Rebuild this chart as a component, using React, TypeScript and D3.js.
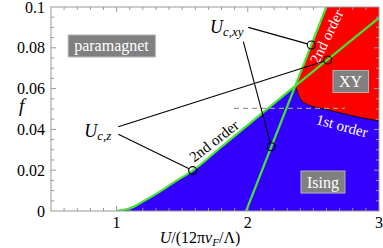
import React, { useEffect, useRef } from "react";
import * as d3 from "d3";

const W = 383;
const H = 248;

// U_c,z line (paramagnet / Ising)
const isingU = [1.0, 1.1, 1.2, 1.33, 1.46, 1.58, 1.8, 2.362, 3.0];
const isingF = [0, 0.0013, 0.0046, 0.0095, 0.015, 0.0198, 0.0315, 0.0613, 0.0947];
// U_c,xy line (paramagnet / XY)
const xyU = [1.987, 2.598];
const xyF = [0, 0.1];
// 1st order line Ising / XY
const firstU = [2.362, 2.373, 2.398, 2.461, 2.563, 2.716, 2.868, 3.0];
const firstF = [0.0613, 0.0593, 0.0552, 0.052, 0.0503, 0.0479, 0.0457, 0.0441];
// circles on the lines
const zMarkU = [1.58, 2.609];
const zMarkF = [0.0198, 0.074];
const xyMarkU = [2.179, 2.484];
const xyMarkF = [0.0315, 0.0814];
// dashed line
const dashU = [1.895, 2.74];
const dashF = [0.0503, 0.0503];

const xTicks = [1, 2, 3];
const xTickLabels = ["1", "2", "3"];
const yTicks = [0, 0.02, 0.04, 0.06, 0.08, 0.1];
const yTickLabels = ["0", "0.02", "0.04", "0.06", "0.08", "0.1"];

const BLUE = "#3300ff";
const RED = "#ff0000";
const GREEN = "#44e62c";
const FONT = "'Liberation Serif', 'DejaVu Serif', serif";

export default function App() {
  const ref = useRef<SVGSVGElement | null>(null);

  useEffect(() => {
    const svg = d3.select(ref.current);
    svg.selectAll("*").remove();

    const x = d3.scaleLinear().domain([0.5, 3]).range([51, 379]);
    const y = d3.scaleLinear().domain([0, 0.1]).range([211, 7]);

    const pts = (us: number[], fs: number[]) => us.map((u, i) => [u, fs[i]] as [number, number]);
    const ising = pts(isingU, isingF);
    const first = pts(firstU, firstF);
    const triple = ising.findIndex(p => p[0] === firstU[0]);

    svg.append("clipPath").attr("id", "plot")
      .append("rect").attr("x", x(0.5)).attr("y", y(0.1))
      .attr("width", x(3) - x(0.5)).attr("height", y(0) - y(0.1));

    const g = svg.append("g").attr("clip-path", "url(#plot)");
    const line = d3.line<[number, number]>().x(d => x(d[0])).y(d => y(d[1])).curve(d3.curveMonotoneX);
    const straight = d3.line<[number, number]>().x(d => x(d[0])).y(d => y(d[1]));

    const isingPath = line(ising.slice(0, triple + 1))!;
    const firstPath = line(first)!;
    const lastF = firstF[firstF.length - 1];

    // blue Ising region
    g.append("path")
      .attr("d", isingPath + firstPath.replace(/^M/, "L") + `L${x(3)},${y(0)}Z`)
      .attr("fill", BLUE);

    // red XY region
    g.append("path")
      .attr("d", firstPath + `L${x(3)},${y(lastF)}L${x(3)},${y(0.1)}L${x(xyU[1])},${y(xyF[1])}Z`)
      .attr("fill", RED);

    g.append("path").attr("d", firstPath).attr("fill", "none").attr("stroke", "#000").attr("stroke-width", 1);

    g.append("path").attr("d", straight(pts(dashU, dashF)))
      .attr("stroke", "#9a9a9a").attr("stroke-width", 1.2).attr("stroke-dasharray", "5,4").attr("fill", "none");

    g.append("path").attr("d", line(ising)).attr("fill", "none").attr("stroke", GREEN).attr("stroke-width", 2.2);
    g.append("path").attr("d", straight(pts(xyU, xyF))).attr("fill", "none").attr("stroke", GREEN).attr("stroke-width", 2.2);

    // frame and ticks
    const frame = svg.append("g").attr("stroke", "#999").attr("stroke-width", 1).attr("fill", "none");
    frame.append("rect").attr("x", x(0.5)).attr("y", y(0.1))
      .attr("width", x(3) - x(0.5)).attr("height", y(0) - y(0.1));
    const xMinor = d3.range(6, 30).map(v => v / 10);
    xMinor.forEach(v => {
      const len = xTicks.includes(v) ? 5 : 3;
      frame.append("line").attr("x1", x(v)).attr("x2", x(v)).attr("y1", y(0)).attr("y2", y(0) - len);
      frame.append("line").attr("x1", x(v)).attr("x2", x(v)).attr("y1", y(0.1)).attr("y2", y(0.1) + len);
    });
    const yMinor = d3.range(1, 20).map(v => v * 0.005);
    yMinor.forEach((v, i) => {
      const len = (i + 1) % 4 === 0 ? 5 : 3;
      frame.append("line").attr("y1", y(v)).attr("y2", y(v)).attr("x1", x(0.5)).attr("x2", x(0.5) + len);
      frame.append("line").attr("y1", y(v)).attr("y2", y(v)).attr("x1", x(3)).attr("x2", x(3) - len);
    });

    const txt = svg.append("g").attr("font-family", FONT);
    xTicks.forEach((v, i) => {
      txt.append("text").attr("x", x(v)).attr("y", 228).attr("text-anchor", "middle")
        .attr("font-size", 16).text(xTickLabels[i]);
    });
    yTicks.forEach((v, i) => {
      txt.append("text").attr("x", 45).attr("y", y(v) + 5.5).attr("text-anchor", "end")
        .attr("font-size", 16).text(yTickLabels[i]);
    });

    const xt = txt.append("text").attr("x", 200).attr("y", 243).attr("text-anchor", "middle").attr("font-size", 16);
    xt.append("tspan").attr("font-style", "italic").text("U");
    xt.append("tspan").text("/(12π");
    xt.append("tspan").attr("font-style", "italic").text("v");
    xt.append("tspan").attr("font-style", "italic").attr("font-size", 11).attr("dy", 3).text("F");
    xt.append("tspan").attr("dy", -3).text("/Λ)");

    txt.append("text").attr("x", 19).attr("y", 112).attr("font-size", 19).attr("font-style", "italic").text("f");

    // annotations
    const ann = svg.append("g").attr("stroke", "#000").attr("stroke-width", 1.1);
    const toward = (x0: number, y0: number, x1: number, y1: number, r: number) => {
      const d = Math.hypot(x1 - x0, y1 - y0);
      return [x1 - (x1 - x0) * r / d, y1 - (y1 - y0) * r / d];
    };
    const annLines: [number, number, number, number][] = [
      [1.013, 0.0413, zMarkU[1], zMarkF[1]],
      [1.013, 0.0376, zMarkU[0], zMarkF[0]],
      [2.004, 0.09, xyMarkU[1], xyMarkF[1]],
      [1.966, 0.083, xyMarkU[0], xyMarkF[0]],
    ];
    annLines.forEach(([u0, f0, u1, f1]) => {
      const [ex, ey] = toward(x(u0), y(f0), x(u1), y(f1), 4);
      ann.append("line").attr("x1", x(u0)).attr("y1", y(f0)).attr("x2", ex).attr("y2", ey);
    });
    [...pts(zMarkU, zMarkF), ...pts(xyMarkU, xyMarkF)].forEach(p => {
      ann.append("circle").attr("cx", x(p[0])).attr("cy", y(p[1])).attr("r", 4).attr("fill", "none");
    });

    const uz = txt.append("text").attr("x", x(0.96)).attr("y", y(0.0365)).attr("text-anchor", "end").attr("font-size", 18);
    uz.append("tspan").attr("font-style", "italic").text("U");
    uz.append("tspan").attr("font-style", "italic").attr("font-size", 13).attr("dy", 3).text("c,z");
    const uxy = txt.append("text").attr("x", x(1.712)).attr("y", y(0.0873)).attr("font-size", 18);
    uxy.append("tspan").attr("font-style", "italic").text("U");
    uxy.append("tspan").attr("font-style", "italic").attr("font-size", 13).attr("dy", 3).text("c,xy");

    // phase labels in gray boxes
    const boxLabel = (u: number, f: number, s: string) => {
      const gg = txt.append("g");
      const rect = gg.append("rect");
      const t = gg.append("text").attr("x", x(u)).attr("y", y(f)).attr("text-anchor", "middle")
        .attr("dominant-baseline", "central").attr("font-size", 16).attr("fill", "#fff").text(s);
      const b = (t.node() as SVGTextElement).getBBox();
      rect.attr("x", b.x - 6).attr("y", y(f) - 11).attr("width", b.width + 12).attr("height", 22)
        .attr("fill", "#808080").attr("stroke", "#b4b4b4").attr("stroke-width", 1);
    };
    boxLabel(0.961, 0.0809, "paramagnet");
    boxLabel(2.783, 0.0635, "XY");
    boxLabel(2.573, 0.0142, "Ising");

    const rotLabel = (u: number, f: number, a: number, s: string, fill: string) => {
      txt.append("text").attr("transform", `translate(${x(u)},${y(f)}) rotate(${a})`)
        .attr("text-anchor", "middle").attr("dominant-baseline", "central")
        .attr("font-size", 15).attr("fill", fill).text(s);
    };
    rotLabel(1.742, 0.0343, -38, "2nd order", "#000");
    rotLabel(2.601, 0.0855, -64, "2nd order", "#fff");
    rotLabel(2.718, 0.0417, 15, "1st order", "#fff");
  }, []);

  return (
    <svg ref={ref} width={W} height={H} style={{ position: "absolute", left: 0, top: 0, background: "#fff" }} />
  );
}
